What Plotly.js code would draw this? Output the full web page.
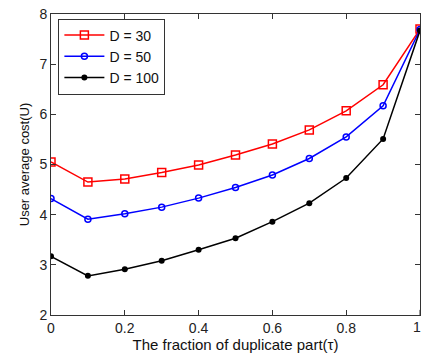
<!DOCTYPE html>
<html><head><meta charset="utf-8">
<script src="https://cdn.plot.ly/plotly-3.0.1.min.js"></script>
<style>html,body{margin:0;padding:0;background:#fff}#chart{width:422px;height:356px}</style>
</head><body><div id="chart"></div>
<script>
const tau = [0, 0.1, 0.2, 0.3, 0.4, 0.5, 0.6, 0.7, 0.8, 0.9, 1.0];
const d30 = [5.05, 4.65, 4.71, 4.84, 4.99, 5.19, 5.41, 5.69, 6.07, 6.59, 7.70];
const d50 = [4.32, 3.91, 4.02, 4.15, 4.33, 4.54, 4.79, 5.12, 5.55, 6.17, 7.69];
const d100 = [3.17, 2.78, 2.91, 3.08, 3.30, 3.53, 3.86, 4.23, 4.73, 5.51, 7.67];
const names = ['D = 30', 'D = 50', 'D = 100'];
const xTicks = [0, 0.2, 0.4, 0.6, 0.8, 1];
const yTicks = [2, 3, 4, 5, 6, 7, 8];

const FONT = 'Liberation Sans, Arial, sans-serif';

const traces = [
  {x: tau, y: d30, name: names[0], mode: 'lines+markers',
   line: {color: '#ff0000', width: 1.5},
   marker: {symbol: 'square-open', size: 8, color: '#ff0000', line: {width: 1.5}}},
  {x: tau, y: d50, name: names[1], mode: 'lines+markers',
   line: {color: '#0000ff', width: 1.5},
   marker: {symbol: 'circle-open', size: 6, color: '#0000ff', line: {width: 1.5}}},
  {x: tau, y: d100, name: names[2], mode: 'lines+markers',
   line: {color: '#000000', width: 1.5},
   marker: {symbol: 'circle', size: 6, color: '#000000'}}
];

const axisCommon = {
  showgrid: false, zeroline: false, showline: true, mirror: 'ticks',
  linecolor: '#333', linewidth: 1, ticks: 'inside', ticklen: 5, tickcolor: '#333',
  tickfont: {family: FONT, size: 14, color: '#222'}
};

// last x tick label sits at the page edge; drawn as an annotation so it is not dropped
const lastX = xTicks[xTicks.length - 1];

const layout = {
  width: 422, height: 356,
  margin: {l: 51, r: 2, t: 14, b: 41},
  paper_bgcolor: '#fff', plot_bgcolor: '#fff',
  showlegend: true,
  legend: {x: 0.02, y: 0.985, xanchor: 'left', yanchor: 'top',
    bgcolor: '#fff', bordercolor: '#333', borderwidth: 1,
    font: {family: FONT, size: 14, color: '#111'},
    tracegroupgap: 0, itemwidth: 40},
  xaxis: Object.assign({}, axisCommon, {
    range: [0, 1], tickvals: xTicks.slice(0, -1), ticktext: xTicks.slice(0, -1).map(String),
    title: {text: 'The fraction of duplicate part(τ)', standoff: 3,
      font: {family: FONT, size: 15, color: '#111'}}
  }),
  yaxis: Object.assign({}, axisCommon, {
    range: [2, 8], tickvals: yTicks, ticktext: yTicks.map(String),
    title: {text: 'User average cost(U)', standoff: 6,
      font: {family: FONT, size: 13, color: '#111'}}
  }),
  annotations: [
    {x: lastX, xref: 'x', y: 0, yref: 'paper', text: String(lastX), showarrow: false,
     xanchor: 'center', yanchor: 'top', yshift: -2, xshift: -3,
     font: {family: FONT, size: 14, color: '#222'}}
  ],
  shapes: [
    {type: 'line', xref: 'x', yref: 'paper', x0: lastX, x1: lastX, y0: 0, y1: 0.017,
     line: {color: '#333', width: 1}}
  ]
};

Plotly.newPlot('chart', traces, layout, {displayModeBar: false, staticPlot: true});
</script></body></html>
